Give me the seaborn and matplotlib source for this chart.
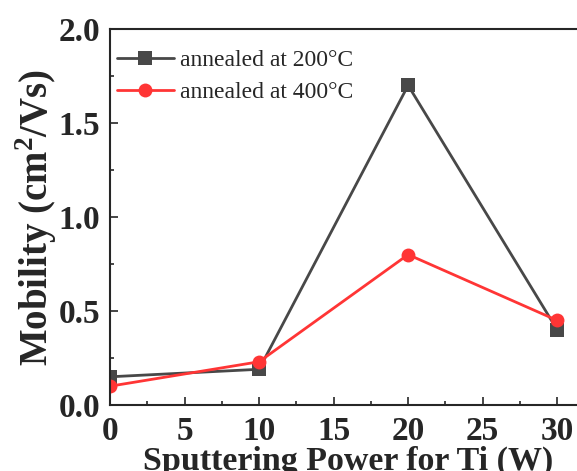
import numpy as np
import pandas as pd
import seaborn as sns
import matplotlib.pyplot as plt
from matplotlib.ticker import MultipleLocator

power = [0, 10, 20, 30]
mob_200 = [0.15, 0.19, 1.70, 0.40]
mob_400 = [0.10, 0.23, 0.80, 0.45]
labels = ["annealed at 200\u00b0C", "annealed at 400\u00b0C"]

df = pd.concat([
    pd.DataFrame({'power': power, 'mobility': mob_200, 'type': labels[0]}),
    pd.DataFrame({'power': power, 'mobility': mob_400, 'type': labels[1]}),
], ignore_index=True)

sns.set_style("ticks")
plt.rcParams['font.family'] = ['Liberation Serif', 'DejaVu Serif']
plt.rcParams['mathtext.fontset'] = 'custom'
plt.rcParams['mathtext.rm'] = 'Liberation Serif:bold'
plt.rcParams['mathtext.bf'] = 'Liberation Serif:bold'

fig = plt.figure(figsize=(5.77, 4.71), dpi=100)
# axes run past the right edge, like the cropped original
ax = fig.add_axes([110 / 577, 1 - 405 / 471, 477 / 577, 376 / 471])

sns.lineplot(data=df, x='power', y='mobility', hue='type', style='type',
             markers={labels[0]: 's', labels[1]: 'o'}, dashes=False,
             palette={labels[0]: '#484848', labels[1]: '#ff3535'},
             markersize=10, linewidth=2, markeredgewidth=0, ax=ax)

ax.set_xlim(0, 32)
ax.set_ylim(0, 2.0)
ax.set_xticks(np.arange(0, 31, 5))
ax.set_yticks(np.arange(0, 2.01, 0.5))
ax.xaxis.set_minor_locator(MultipleLocator(2.5))
ax.yaxis.set_minor_locator(MultipleLocator(0.25))
ax.tick_params(which='both', direction='in', width=1.2)
ax.tick_params(which='major', length=6, labelsize=24)
ax.tick_params(axis='y', which='major', pad=7)
ax.tick_params(axis='x', which='major', pad=8)
ax.tick_params(which='minor', length=3)
for t in ax.get_xticklabels() + ax.get_yticklabels():
    t.set_fontweight('bold')
for s in ax.spines.values():
    s.set_linewidth(1.5)

ax.set_xlabel('Sputtering Power for Ti (W)', fontsize=24.5, fontweight='bold', labelpad=-1)
ax.set_ylabel(r'Mobility (cm$^{2}$/Vs)', fontsize=28, fontweight='bold', labelpad=0)

ax.legend(loc='upper left', bbox_to_anchor=(0.015, 0.945), frameon=False,
          fontsize=17, handlelength=2.4, borderaxespad=0, borderpad=0,
          labelspacing=0.45, handletextpad=0.25)

fig.savefig('out.png', dpi=100)
